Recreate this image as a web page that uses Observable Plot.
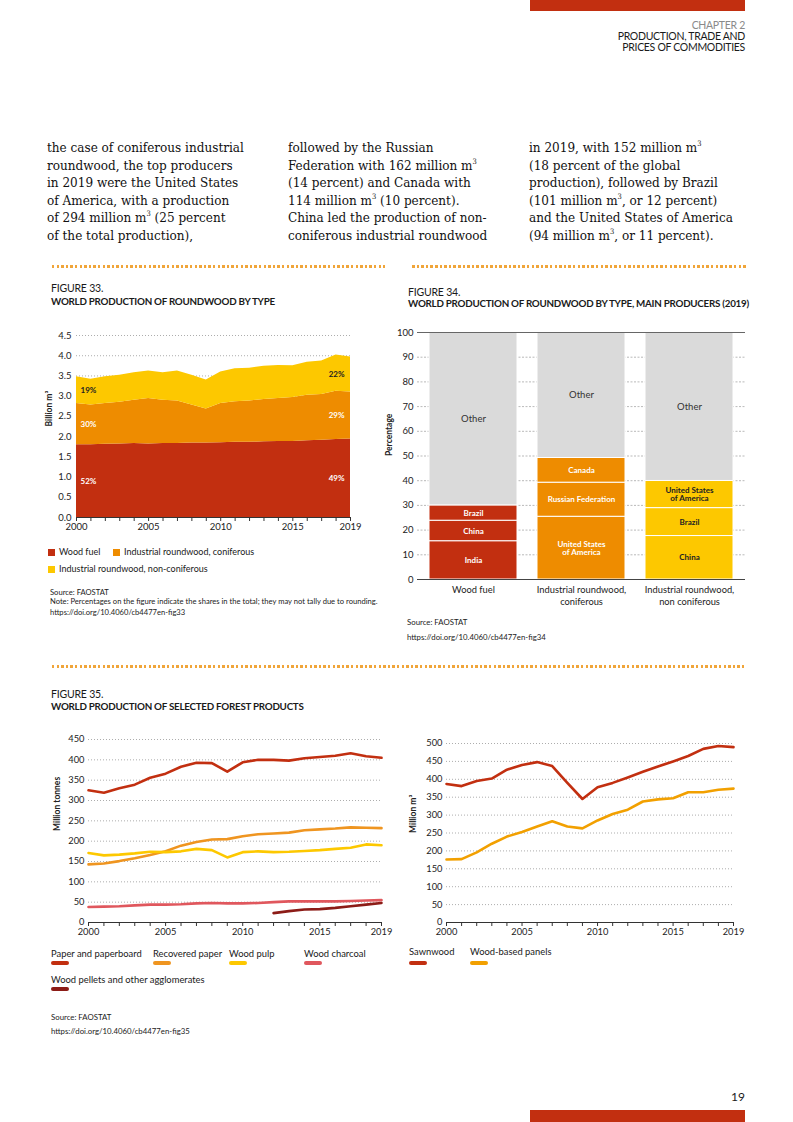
<!DOCTYPE html>
<html><head><meta charset="utf-8">
<script src="https://cdn.jsdelivr.net/npm/d3@7"></script>
<script src="https://cdn.jsdelivr.net/npm/@observablehq/plot@0.6"></script>
<style>
html,body{margin:0;padding:0;background:#fff;}
#page{position:relative;width:793px;height:1122px;overflow:hidden;font-family:Lato,"Open Sans",sans-serif;color:#1a1a1a;}
#page > *{position:absolute;}
.body{font-family:"DejaVu Serif Condensed","DejaVu Serif",serif;font-stretch:condensed;font-size:13.4px;line-height:17.5px;color:#111;white-space:nowrap;}
.body sup{font-size:7.5px;vertical-align:6px;line-height:0;}
.hdr{right:48px;text-align:right;font-size:10.5px;line-height:11px;letter-spacing:-0.3px;}
.figno{font-size:10.5px;line-height:12px;letter-spacing:-0.2px;white-space:nowrap;}
.figtitle{font-size:9.8px;line-height:12px;font-weight:bold;letter-spacing:-0.25px;white-space:nowrap;}
.dots{height:2.5px;background:repeating-linear-gradient(to right,#f0a53a 0 2.5px,transparent 2.5px 4.6px);}
.src{font-size:7.6px;line-height:10px;white-space:nowrap;color:#222;}
.leg{font-size:9px;line-height:12px;white-space:nowrap;}
.sq{display:inline-block;width:7px;height:7px;margin-right:4px;vertical-align:-0.5px;}
.sw{height:4px;width:18px;border-radius:2px;}
</style></head>
<body><div id="page"></div>
<script>
// ---------------- DATA ----------------
const years = [2000,2001,2002,2003,2004,2005,2006,2007,2008,2009,2010,2011,2012,2013,2014,2015,2016,2017,2018,2019];
const yearLabels = [2000,2005,2010,2015,2019];

// Figure 33 (billion m3)
const roundwoodTypes = ["Wood fuel","Industrial roundwood, coniferous","Industrial roundwood, non-coniferous"];
const woodFuel      = [1.80,1.80,1.81,1.82,1.83,1.82,1.83,1.83,1.84,1.84,1.85,1.86,1.86,1.87,1.88,1.88,1.90,1.91,1.93,1.94];
const coniferous    = [1.02,0.98,1.01,1.03,1.07,1.12,1.07,1.05,0.94,0.84,0.97,1.00,1.02,1.05,1.06,1.09,1.12,1.13,1.19,1.16];
const nonConiferous = [0.66,0.64,0.66,0.67,0.68,0.68,0.68,0.74,0.74,0.72,0.78,0.82,0.81,0.82,0.82,0.78,0.82,0.83,0.90,0.87];
const shares2000 = ["52%","30%","19%"];
const shares2019 = ["49%","29%","22%"];
const yTicks33 = [0,0.5,1,1.5,2,2.5,3,3.5,4,4.5];

// Figure 34 (percentage, 2019)
const fig34Categories = ["Wood fuel","Industrial roundwood, coniferous","Industrial roundwood, non coniferous"];
const fig34AxisLabels = ["Wood fuel","Industrial roundwood,\nconiferous","Industrial roundwood,\nnon coniferous"];
const woodFuelProducers = ["India","China","Brazil","Other"];
const woodFuelShares = [15.5,8.3,6.2,70.0];
const coniferousProducers = ["United States\nof America","Russian Federation","Canada","Other"];
const coniferousShares = [25.4,13.8,10.0,50.8];
const nonConiferousProducers = ["China","Brazil","United States\nof America","Other"];
const nonConiferousShares = [17.6,11.3,11.0,60.1];
const yTicks34 = [0,10,20,30,40,50,60,70,80,90,100];

// Figure 35 left (million tonnes)
const productsLeft = ["Paper and paperboard","Recovered paper","Wood pulp","Wood charcoal","Wood pellets and other agglomerates"];
const paperboard   = [325,319,330,339,356,366,383,393,392,371,394,400,400,398,404,407,410,416,409,405];
const recovered    = [143,145,151,158,166,175,189,198,204,205,212,217,219,221,227,229,231,234,233,232];
const woodPulp     = [171,165,167,170,174,173,175,181,178,160,173,175,173,174,176,178,181,184,192,190];
const charcoal     = [38,39,40,42,44,44,45,47,48,47,47,48,50,52,52,52,52,53,54,55];
const pellets      = [null,null,null,null,null,null,null,null,null,null,null,null,23,28,32,33,36,40,44,48];
const yTicks35L = [0,50,100,150,200,250,300,350,400,450];

// Figure 35 right (million m3)
const productsRight = ["Sawnwood","Wood-based panels"];
const sawnwood = [387,381,395,402,427,440,448,437,390,345,378,390,405,421,436,450,465,485,493,490];
const panels   = [176,177,196,220,240,253,268,283,268,263,285,303,315,338,344,347,364,364,371,374];
const yTicks35R = [0,50,100,150,200,250,300,350,400,450,500];

// ---------------- STYLE ----------------
const RED = "#c22f10", ORANGE = "#ee8c00", YELLOW = "#fdc800", GRAY = "#dadada";
const PINK = "#e0575d", MAROON = "#8c1c17", PANEL = "#f2a000", RECOV = "#ef9520";
const colors33 = [RED, ORANGE, YELLOW];
const colors34 = [RED, ORANGE, YELLOW];
const colorsLeft = [RED, RECOV, YELLOW, PINK, MAROON];
const colorsRight = [RED, PANEL];

const page = document.getElementById("page");
function add(html, css){ const d=document.createElement("div"); d.innerHTML=html; if(css.cls) d.className=css.cls; for(const k in css) if(k!=="cls") d.style[k]=css[k]; page.appendChild(d); return d; }
function place(el,left,top){ el.style.position="absolute"; el.style.left=left+"px"; el.style.top=top+"px"; page.appendChild(el); }
const baseStyle = {background:"transparent", fontFamily:"Lato, 'Open Sans', sans-serif", fontSize:"9px", color:"#222", overflow:"visible"};
const fmtYear = d => yearLabels.includes(d) ? String(d) : "";

// ---------------- HEADER & BODY TEXT ----------------
add("", {left:"530px", top:"0px", width:"215px", height:"11px", background:RED});
add('<span style="color:#8a8a8a">CHAPTER 2</span><br>PRODUCTION, TRADE AND<br>PRICES OF COMMODITIES', {cls:"hdr", top:"19.5px"});
add('the case of coniferous industrial<br>roundwood, the top producers<br>in 2019 were the United States<br>of America, with a production<br>of 294 million m<sup>3</sup> (25 percent<br>of the total production),', {cls:"body", left:"47px", top:"139px"});
add('followed by the Russian<br>Federation with 162 million m<sup>3</sup><br>(14 percent) and Canada with<br>114 million m<sup>3</sup> (10 percent).<br>China led the production of non-<br>coniferous industrial roundwood', {cls:"body", left:"288px", top:"139px"});
add('in 2019, with 152 million m<sup>3</sup><br>(18 percent of the global<br>production), followed by Brazil<br>(101 million m<sup>3</sup>, or 12 percent)<br>and the United States of America<br>(94 million m<sup>3</sup>, or 11 percent).', {cls:"body", left:"529px", top:"139px"});

add("", {cls:"dots", left:"52px", top:"265px", width:"333px"});
add("", {cls:"dots", left:"412px", top:"265px", width:"334px"});
add("", {cls:"dots", left:"52px", top:"665px", width:"694px"});

// ---------------- FIGURE 33 ----------------
add("FIGURE 33.", {cls:"figno", left:"51px", top:"282px"});
add("WORLD PRODUCTION OF ROUNDWOOD BY TYPE", {cls:"figtitle", left:"51px", top:"294.5px"});

const rows33 = [];
[woodFuel, coniferous, nonConiferous].forEach((arr,i) => arr.forEach((v,j) => rows33.push({
  year: years[j], type: roundwoodTypes[i], value: v,
  label: j===0 ? shares2000[i] : (j===years.length-1 ? shares2019[i] : ""), idx: i })));

const fig33 = Plot.plot({
  width: 340, height: 220, marginLeft: 46, marginRight: 20, marginTop: 15, marginBottom: 23,
  style: baseStyle,
  x: {domain:[2000,2019], label:null},
  y: {domain:[0,4.5], label:null},
  color: {domain: roundwoodTypes, range: colors33},
  marks: [
    Plot.gridY(yTicks33.filter(d=>d>0), {stroke:"#8a8a8a", strokeOpacity:1, strokeDasharray:"1,2", strokeWidth:0.7}),
    Plot.areaY(rows33, {x:"year", y:"value", fill:"type", curve:"linear"}),
    Plot.ruleY([0], {stroke:"#333", strokeWidth:1}),
    Plot.axisY(yTicks33, {tickSize:0, tickPadding:5, tickFormat:d=>d.toFixed(1), fontSize:9.5, label:null}),
    Plot.axisX(years, {tickSize:4, tickPadding:2, tickFormat:fmtYear, fontSize:9.5, stroke:"#333", label:null}),
    Plot.text(rows33.filter(d=>d.year===2000), Plot.stackY({x:"year", y:"value", z:"type", text:"label",
      fill: d => d.idx===2 ? "#222" : "#fff", textAnchor:"start", dx:4, fontWeight:"bold", fontSize:8})),
    Plot.text(rows33.filter(d=>d.year===2019), Plot.stackY({x:"year", y:"value", z:"type", text:"label",
      fill: d => d.idx===2 ? "#222" : "#fff", textAnchor:"end", dx:-6, fontWeight:"bold", fontSize:8})),
    Plot.text(["Billion m³"], {frameAnchor:"left", dx:-27, rotate:-90, fontWeight:"bold", fontSize:8.5, fill:"#222"})
  ]
});
place(fig33, 30, 320);

add(roundwoodTypes.slice(0,2).map((t,i)=>`<span style="display:inline-block;${i? 'margin-left:0' : 'width:65px'}"><span class="sq" style="background:${colors33[i]}"></span>${t}</span>`).join(""),
  {cls:"leg", left:"48px", top:"546px"});
add(`<span class="sq" style="background:${colors33[2]}"></span>${roundwoodTypes[2]}`, {cls:"leg", left:"48px", top:"563px"});
add('Source: FAOSTAT<br>Note: Percentages on the figure indicate the shares in the total; they may not tally due to rounding.', {cls:"src", left:"50px", top:"588px", lineHeight:"9px"});
add('https://doi.org/10.4060/cb4477en-fig33', {cls:"src", left:"50px", top:"606.5px"});

// ---------------- FIGURE 34 ----------------
add("FIGURE 34.", {cls:"figno", left:"408px", top:"285.5px"});
add("WORLD PRODUCTION OF ROUNDWOOD BY TYPE, MAIN PRODUCERS (2019)", {cls:"figtitle", left:"408px", top:"296.5px"});

const rows34 = [];
[[woodFuelProducers, woodFuelShares],[coniferousProducers, coniferousShares],[nonConiferousProducers, nonConiferousShares]]
  .forEach(([names, vals], i) => names.forEach((n,j) => rows34.push({category: fig34Categories[i], producer: n, value: vals[j], ci: i})));

const fig34 = Plot.plot({
  width: 380, height: 300, marginLeft: 37, marginRight: 15, marginTop: 12, marginBottom: 41,
  style: baseStyle,
  x: {domain: fig34Categories, paddingInner: 0.185, paddingOuter: 0.11, label:null},
  y: {domain: [0,100], label:null},
  marks: [
    Plot.gridY(yTicks34.filter(d=>d>0 && d<100), {stroke:"#8a8a8a", strokeOpacity:1, strokeDasharray:"2,1.5", strokeWidth:0.6}),
    Plot.barY(rows34, {x:"category", y:"value", fill: d => d.producer==="Other" ? GRAY : colors34[d.ci], stroke:"#fff", strokeWidth:1}),
    Plot.ruleY([100], {stroke:"#666", strokeWidth:1}),
    Plot.ruleY([0], {stroke:"#444", strokeWidth:1}),
    Plot.axisY(yTicks34, {tickSize:0, tickPadding:4, fontSize:9.5, label:null}),
    Plot.axisX({tickSize:0, tickPadding:6, fontSize:9.3, tickFormat: d => fig34AxisLabels[fig34Categories.indexOf(d)], lineHeight:1.2, label:null}),
    Plot.text(rows34, Plot.stackY({x:"category", y:"value", text: d => d.producer==="Other" ? "" : d.producer,
      fill: d => d.ci===2 ? "#222" : "#fff", fontWeight:"bold", fontSize:8, lineHeight:1.05})),
    Plot.text(rows34, Plot.stackY({x:"category", y:"value", text: d => d.producer==="Other" ? "Other" : "",
      fill:"#333", fontSize:9.5})),
    Plot.text(["Percentage"], {frameAnchor:"left", dx:-28, rotate:-90, fontWeight:"bold", fontSize:8.5, fill:"#222"})
  ]
});
place(fig34, 380, 320);
add('Source: FAOSTAT', {cls:"src", left:"407px", top:"617px", fontSize:"7.8px"});
add('https://doi.org/10.4060/cb4477en-fig34', {cls:"src", left:"407px", top:"631.5px", fontSize:"7.8px"});

// ---------------- FIGURE 35 ----------------
add("FIGURE 35.", {cls:"figno", left:"51px", top:"688px"});
add("WORLD PRODUCTION OF SELECTED FOREST PRODUCTS", {cls:"figtitle", left:"51px", top:"699.5px"});

function lineRows(names, arrays){
  const r=[]; arrays.forEach((arr,i)=>arr.forEach((v,j)=>{ r.push({year:years[j], series:names[i], value:v, si:i}); })); return r;
}
const rowsL = lineRows(productsLeft, [paperboard, recovered, woodPulp, charcoal, pellets]);
const rowsR = lineRows(productsRight, [sawnwood, panels]);

function linePlot(rows, cols, ticks, dom, m, label, dx){
  return Plot.plot({
    width: 370, height: 225, marginLeft: m[0], marginRight: m[1], marginTop: m[2], marginBottom: m[3],
    style: baseStyle,
    x: {domain:[2000,2019], label:null},
    y: {domain: dom, label:null},
    marks: [
      Plot.gridY(ticks.filter(d=>d>0), {stroke:"#8a8a8a", strokeOpacity:1, strokeDasharray:"1,2", strokeWidth:0.7}),
      Plot.ruleY([0], {stroke:"#333", strokeWidth:1}),
      Plot.line(rows, {x:"year", y:"value", z:"series", stroke: d => cols[d.si], strokeWidth:2.6, curve:"linear"}),
      Plot.axisY(ticks, {tickSize:0, tickPadding:4, fontSize:9.3, label:null}),
      Plot.axisX(years, {tickSize:4, tickPadding:2, tickFormat:fmtYear, fontSize:9.3, stroke:"#333", label:null}),
      Plot.text([label], {frameAnchor:"left", dx:dx, rotate:-90, fontWeight:"bold", fontSize:8.5, fill:"#222"})
    ]
  });
}
place(linePlot(rowsL, colorsLeft, yTicks35L, [0,450], [58,19,14,28], "Million tonnes", -31), 30, 725);
place(linePlot(rowsR, colorsRight, yTicks35R, [0,500], [56,27,18,28], "Million m³", -33), 390, 725);

// legends fig 35
const legL = [[productsLeft[0],51,948],[productsLeft[1],153,948],[productsLeft[2],229,948],[productsLeft[3],304,948],[productsLeft[4],51,974]];
legL.forEach(([n,x,y],i)=>{
  add(n, {cls:"leg", left:x+"px", top:y+"px", fontSize:"9.4px"});
  add("", {cls:"sw", left:x+"px", top:(y+13)+"px", background:colorsLeft[i]});
});
const legR = [[productsRight[0],409,946],[productsRight[1],470,946]];
legR.forEach(([n,x,y],i)=>{
  add(n, {cls:"leg", left:x+"px", top:y+"px", fontSize:"9.4px"});
  add("", {cls:"sw", left:x+"px", top:(y+14.5)+"px", background:colorsRight[i]});
});
add('Source: FAOSTAT', {cls:"src", left:"51px", top:"1011.5px", fontSize:"7.8px"});
add('https://doi.org/10.4060/cb4477en-fig35', {cls:"src", left:"51px", top:"1025.5px", fontSize:"7.8px"});

// ---------------- FOOTER ----------------
add("19", {right:"48px", top:"1090px", fontSize:"12px", lineHeight:"14px"});
add("", {left:"530px", top:"1110px", width:"215px", height:"12px", background:RED});
</script></body></html>
